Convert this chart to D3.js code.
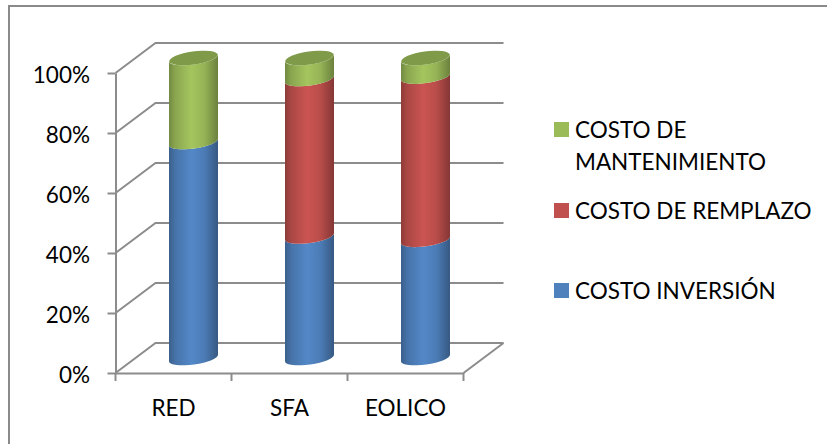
<!DOCTYPE html>
<html><head><meta charset="utf-8">
<script src="https://cdn.jsdelivr.net/npm/d3@7/dist/d3.min.js"></script>
<style>
html,body{margin:0;padding:0;background:#fff}
svg{display:block}
text{font-family:Lato,"Open Sans",sans-serif;fill:#000}
</style></head><body><div id="c"></div>
<script>
const categories = ["RED","SFA","EOLICO"];
const seriesNames = ["COSTO INVERSIÓN","COSTO DE REMPLAZO","COSTO DE MANTENIMIENTO"];
const inversion = [72, 40.5, 39.4];
const remplazo = [0, 52.5, 54.4];
const mantenimiento = [28, 7, 6.2];
const yTicks = [0,20,40,60,80,100];
const colors = ["#4f81bd","#c0504d","#9bbb59"];

const W=827,H=444;
const svg=d3.select("#c").append("svg").attr("width",W).attr("height",H);
svg.append("path").attr("d","M9,444V6H827").attr("fill","none").attr("stroke","#8a8a8a").attr("stroke-width",2);

const x=d3.scaleBand().domain(categories).range([115.5,463.5]);
const y=d3.scaleLinear().domain([0,100]).range([373,73]);
const depthX=40, depthY=-30;
const grid="#8c8c8c";

// walls
const g=svg.append("g").attr("fill","none").attr("stroke",grid).attr("stroke-width",2);
yTicks.forEach(t=>{
  g.append("path").attr("d",d3.line()([[x.range()[0],y(t)],[x.range()[0]+depthX,y(t)+depthY],[x.range()[1]+depthX,y(t)+depthY]]));
});
g.append("path").attr("d",d3.line()([[x.range()[1],y(0)],[x.range()[1]+depthX,y(0)+depthY]]));

// axes
const axL=svg.append("g").attr("transform",`translate(${x.range()[0]},0)`)
  .call(d3.axisLeft(y).tickValues(yTicks).tickFormat(d=>d+"%").tickSize(8).tickSizeOuter(0));
const axB=svg.append("g").attr("transform",`translate(0,${y(0)})`)
  .call(d3.axisBottom(x).tickSize(0).tickSizeOuter(0));
[axL,axB].forEach(a=>{a.selectAll("path.domain").attr("stroke",grid).attr("stroke-width",2);
  a.selectAll("line").attr("stroke",grid).attr("stroke-width",2);
  a.selectAll("text").attr("font-size",22.5).attr("font-family","Lato").attr("fill","#000")});
axL.selectAll("text").attr("x",-25.5).attr("dy","0.42em");
axB.selectAll("text").attr("y",42.5).attr("dy",0);
svg.append("g").selectAll("line").data(d3.range(4).map(i=>x.range()[0]+i*x.step())).join("line")
  .attr("x1",d=>d).attr("x2",d=>d).attr("y1",y(0)).attr("y2",y(0)+8).attr("stroke",grid).attr("stroke-width",2);

// gradients
const defs=svg.append("defs");
function shade(c,k){return d3.rgb(c).darker(k).formatHex();}
colors.forEach((c,i)=>{
  const gr=defs.append("linearGradient").attr("id","g"+i).attr("x1",0).attr("x2",1).attr("y1",0).attr("y2",0);
  [[0,shade(c,0.85)],[0.12,shade(c,0.35)],[0.45,d3.rgb(c).brighter(0.15).formatHex()],[0.72,shade(c,0.1)],[1,shade(c,1.05)]]
    .forEach(([o,s])=>gr.append("stop").attr("offset",o).attr("stop-color",s));
});

// stacked cylinders
const table=categories.map((c,i)=>({cat:c,a:inversion[i],b:remplazo[i],c:mantenimiento[i]}));
const stack=d3.stack().keys(["a","b","c"])(table);
const rx=24.5, ry=6.5, rot=-8;
const dyTilt=Math.sin(rot*Math.PI/180)*rx;
const cxOf=d=>x(d)+x.bandwidth()/2+depthX/2;
const cyOf=v=>y(v)+depthY/2;
const bars=svg.append("g");
stack.forEach((s,i)=>{
  s.forEach(d=>{
    if(d[1]-d[0]<=0) return;
    const cx=cxOf(d.data.cat), y0=cyOf(d[0]), y1=cyOf(d[1]);
    const side=`M${cx-rx},${y0-dyTilt}A${rx},${ry} ${rot} 0 0 ${cx+rx},${y0+dyTilt}L${cx+rx},${y1+dyTilt}A${rx},${ry} ${rot} 0 1 ${cx-rx},${y1-dyTilt}Z`;
    bars.append("path").attr("d",side).attr("fill",`url(#g${i})`);
    if(d[1]>=99.9){
      bars.append("ellipse").attr("cx",cx).attr("cy",y1).attr("rx",rx).attr("ry",ry)
        .attr("transform",`rotate(${rot} ${cx} ${y1})`).attr("fill",d3.rgb(colors[i]).darker(0.55).formatHex());
    }
  });
});

// legend
const legendLines=[["COSTO DE","MANTENIMIENTO"],["COSTO DE REMPLAZO"],["COSTO INVERSIÓN"]];
const legendColors=[colors[2],colors[1],colors[0]];
const legendY=[129.5,210.5,290.5];
const leg=svg.append("g");
legendLines.forEach((ls,i)=>{
  leg.append("rect").attr("x",554).attr("y",legendY[i]-7.5).attr("width",15).attr("height",15).attr("fill",legendColors[i]);
  ls.forEach((l,j)=>leg.append("text").attr("x",575).attr("y",legendY[i]+8+j*32).attr("font-size",22.5).text(l));
});
</script></body></html>
